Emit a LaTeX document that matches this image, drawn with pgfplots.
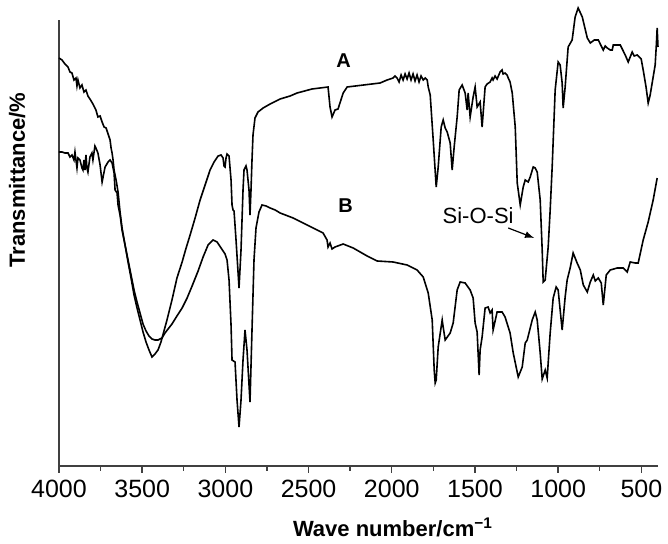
\documentclass[border=0pt]{standalone}
\usepackage{fontspec}
\setmainfont{Liberation Sans}
\usepackage{pgfplots}
\pgfplotsset{compat=1.18}
\begin{document}
\begin{tikzpicture}
\useasboundingbox (-29.5pt,-39pt) rectangle (304.5pt,233pt);
\begin{axis}[
  scale only axis, width=299.5pt, height=223pt,
  x dir=reverse, xmin=400, xmax=4000, ymin=0, ymax=446,
  axis x line*=bottom, axis y line*=left,
  axis line style={line width=0.8pt, black!75},
  xtick={4000,3500,3000,2500,2000,1500,1000,500},
  minor x tick num=1,
  tick align=outside,
  major tick length=3.5pt, minor tick length=2.5pt,
  every tick/.style={line width=0.7pt, black!75},
  ytick=\empty,
  /pgf/number format/assume math mode=true,
  /pgf/number format/1000 sep={},
  xticklabel style={font=\fontsize{12.5}{15}\selectfont},
  xlabel={Wave number/cm\textsuperscript{−1}},
  ylabel={Transmittance/\%},
  every axis x label/.style={at={(axis description cs:0.5576,-0.157)}, anchor=base, font=\fontsize{11}{13}\selectfont\bfseries},
  every axis y label/.style={at={(axis description cs:-0.0568,0.641)}, anchor=base, rotate=90, font=\fontsize{11}{13}\selectfont\bfseries},
  clip=false,
]
% Curve A
\addplot[black, line width=0.8pt] coordinates {
(4000,408) (3982,406) (3964,402) (3946,399) (3934,394) (3922,393) (3910,386) (3898,388)
(3892,380) (3886,386) (3874,378) (3862,381) (3850,374) (3838,376) (3826,370) (3814,367)
(3796,362) (3778,356) (3766,349) (3753,350) (3741,344) (3729,339) (3717,338) (3705,332)
(3693,326) (3687,318) (3681,313) (3675,306) (3669,296) (3657,286) (3645,274) (3633,254)
(3621,238) (3603,221) (3585,204) (3567,188) (3549,171) (3531,158) (3513,146) (3495,134)
(3477,124) (3459,116) (3441,109) (3423,112) (3405,116) (3387,124) (3369,135) (3351,146)
(3321,166) (3291,188) (3260,204) (3236,218) (3212,231) (3182,248) (3152,266) (3122,281)
(3092,296) (3068,304) (3044,310) (3026,311) (3014,308) (3008,300) (3002,299) (2996,308)
(2990,312) (2978,310) (2966,286) (2960,261) (2954,256) (2948,255) (2936,226) (2918,178)
(2906,216) (2900,246) (2894,276) (2888,296) (2876,300) (2870,296) (2858,276) (2852,251)
(2846,276) (2840,306) (2834,331) (2822,348) (2804,354) (2773,358) (2731,362) (2671,367)
(2611,370) (2569,373) (2479,377) (2383,379) (2371,359) (2359,349) (2341,356) (2323,357)
(2292,373) (2268,379) (2070,383) (2028,386) (1992,388) (1980,390) (1968,388) (1956,384)
(1944,391) (1932,386) (1920,392) (1908,387) (1896,393) (1884,386) (1872,392) (1860,385)
(1848,391) (1836,384) (1824,390) (1811,386) (1799,388) (1787,386) (1781,379) (1769,371)
(1751,326) (1733,279) (1721,299) (1703,339) (1691,346) (1679,338) (1667,334) (1649,323)
(1637,296) (1625,319) (1607,349) (1595,376) (1577,381) (1559,373) (1547,356) (1541,373)
(1529,349) (1511,369) (1499,379) (1487,359) (1469,364) (1457,339) (1439,379) (1427,382)
(1409,384) (1397,388) (1391,386) (1379,390) (1367,387) (1349,394) (1337,396) (1331,392)
(1319,393) (1307,391) (1300,388) (1289,384) (1276,373) (1258,339) (1246,283) (1228,261)
(1210,279) (1198,286) (1180,284) (1168,289) (1150,299) (1138,298) (1126,294) (1108,266)
(1096,216) (1090,184) (1078,186) (1060,219) (1048,256) (1036,299) (1018,376) (1000,404)
(988,401) (976,383) (970,358) (958,379) (940,419) (916,426) (898,449) (880,458)
(855,449) (825,428) (807,423) (783,426) (759,426) (729,416) (717,420) (705,418)
(687,416) (675,416) (669,421) (627,421) (597,411) (579,404) (567,409) (555,414)
(543,410) (525,411) (501,407) (489,396) (471,378) (459,363) (447,371) (435,383)
(417,401) (410,421) (405,438) (400,419)
};
% Curve B
\addplot[black, line width=0.8pt] coordinates {
(4000,314) (3982,314) (3964,313) (3946,313) (3934,309) (3922,311) (3910,306) (3904,314)
(3892,298) (3886,308) (3874,306) (3862,298) (3856,296) (3850,306) (3844,296) (3838,311)
(3832,298) (3826,294) (3814,309) (3802,313) (3796,306) (3784,320) (3778,318) (3766,313)
(3753,301) (3741,284) (3729,294) (3723,299) (3705,304) (3693,306) (3681,303) (3669,293)
(3663,276) (3651,273) (3645,261) (3633,251) (3621,236) (3603,221) (3585,206) (3567,191)
(3549,176) (3531,164) (3513,153) (3495,142) (3477,135) (3459,130) (3441,127) (3423,126)
(3405,126) (3381,128) (3363,133) (3321,142) (3291,150) (3260,158) (3230,168) (3200,180)
(3164,195) (3134,209) (3104,221) (3074,226) (3050,224) (3026,218) (3002,212) (2990,206)
(2978,186) (2966,141) (2960,106) (2942,104) (2930,66) (2918,39) (2906,66) (2894,106)
(2882,136) (2870,116) (2852,64) (2840,136) (2828,206) (2816,238) (2798,254) (2780,261)
(2755,260) (2731,258) (2701,256) (2671,253) (2593,248) (2509,241) (2413,233) (2389,226)
(2383,219) (2371,223) (2359,217) (2341,219) (2292,222) (2232,218) (2148,210) (2088,205)
(1992,204) (1908,201) (1848,196) (1811,189) (1781,173) (1757,146) (1745,96) (1739,83)
(1733,86) (1721,119) (1697,146) (1691,139) (1679,126) (1649,133) (1631,143) (1607,176)
(1589,184) (1559,183) (1529,176) (1511,168) (1499,143) (1487,134) (1475,91) (1469,116)
(1457,129) (1439,158) (1421,159) (1409,153) (1397,156) (1391,136) (1367,154) (1337,154)
(1319,149) (1289,133) (1270,113) (1240,89) (1216,99) (1198,123) (1186,126) (1156,146)
(1138,154) (1126,146) (1108,113) (1096,87) (1078,96) (1066,88) (1048,133) (1030,168)
(1012,179) (1000,176) (982,146) (976,136) (958,169) (946,186) (928,198) (910,213)
(886,203) (867,196) (849,181) (825,174) (807,184) (789,191) (777,185) (759,188)
(741,183) (729,161) (711,191) (687,196) (645,198) (609,198) (585,194) (567,204)
(537,203) (519,203) (489,226) (459,244) (429,266) (405,288)
};
\node[font=\fontsize{10}{12}\selectfont\bfseries] at (axis cs:2290,405) {A};
\node[font=\fontsize{10}{12}\selectfont\bfseries] at (axis cs:2277,260) {B};
\node[font=\fontsize{11}{13}\selectfont] at (axis cs:1481,250) {Si-O-Si};
\draw[-latex, line width=0.6pt] (axis cs:1300,238) -- (axis cs:1144,228);
\end{axis}
\end{tikzpicture}
\end{document}
